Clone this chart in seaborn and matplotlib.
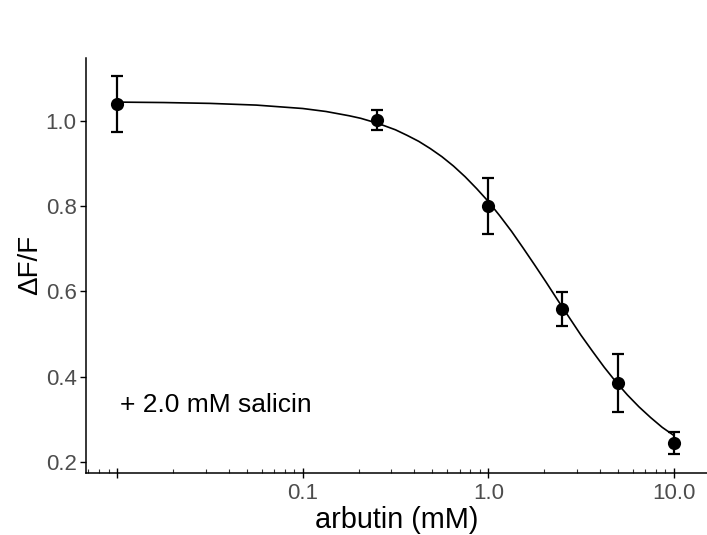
import numpy as np
import pandas as pd
import matplotlib
matplotlib.use("Agg")
import matplotlib.pyplot as plt
import matplotlib.ticker as mticker
import seaborn as sns

# measured points (mean +/- error)
conc = [0.01, 0.25, 1.0, 2.5, 5.0, 10.0]
resp = [1.040, 1.002, 0.800, 0.558, 0.385, 0.244]
err = [0.065, 0.023, 0.065, 0.040, 0.068, 0.026]

# fitted curve
fit_x = [0.01, 0.0178, 0.0316, 0.0562, 0.1, 0.1334, 0.1778, 0.2054, 0.2371,
         0.2738, 0.3162, 0.3652, 0.4217, 0.487, 0.5623, 0.6494, 0.7499, 0.866,
         1.0, 1.155, 1.334, 1.54, 1.778, 2.054, 2.371, 2.738, 3.162, 3.652,
         4.217, 4.87, 5.623, 6.494, 7.499, 8.66, 10.0]
fit_y = [1.044, 1.043, 1.041, 1.037, 1.029, 1.022, 1.012, 1.006, 0.998,
         0.989, 0.979, 0.966, 0.952, 0.935, 0.916, 0.894, 0.869, 0.841,
         0.811, 0.777, 0.741, 0.702, 0.662, 0.621, 0.579, 0.538, 0.497, 0.459,
         0.422, 0.388, 0.357, 0.329, 0.304, 0.281, 0.262]

x_ticks = [0.01, 0.1, 1.0, 10.0]
x_ticklabels = ["", "0.1", "1.0", "10.0"]
y_ticks = [0.2, 0.4, 0.6, 0.8, 1.0]

pts = pd.DataFrame({"conc": conc, "resp": resp, "err": err})
curve = pd.DataFrame({"x": fit_x, "y": fit_y})

sns.set_theme(style="ticks")
plt.rcParams["font.family"] = ["Liberation Sans", "DejaVu Sans"]

fig = plt.figure(figsize=(7.07, 5.35), dpi=100)
ax = fig.add_axes([0.121, 0.116, 0.879, 0.776])

sns.lineplot(data=curve, x="x", y="y", color="black", linewidth=1.2, ax=ax)
ax.errorbar(pts["conc"], pts["resp"], yerr=pts["err"], fmt="none",
            ecolor="black", elinewidth=1.6, capsize=4, capthick=1.6, zorder=3)
sns.scatterplot(data=pts, x="conc", y="resp", color="black", s=90,
                edgecolor="black", linewidth=0, zorder=4, ax=ax)

ax.set_xscale("log")
ax.set_xlim(0.00675, 15.1)
ax.set_ylim(0.174, 1.148)
ax.set_xticks(x_ticks)
ax.set_xticklabels(x_ticklabels)
ax.xaxis.set_minor_locator(mticker.LogLocator(base=10, subs=np.arange(2, 10)))
ax.xaxis.set_minor_formatter(mticker.NullFormatter())
ax.set_yticks(y_ticks)
ax.set_yticklabels([f"{v:.1f}" for v in y_ticks])

ax.tick_params(axis="x", which="major", direction="inout", length=7, width=1,
               color="black", labelsize=16, labelcolor="#4D4D4D", pad=4)
ax.tick_params(axis="x", which="minor", direction="in", length=3, width=0.8,
               color="#333333")
ax.tick_params(axis="y", which="major", direction="out", length=4, width=1,
               color="black", labelsize=16, labelcolor="#4D4D4D", pad=2.5)

for side in ["top", "right"]:
    ax.spines[side].set_visible(False)
for side in ["left", "bottom"]:
    ax.spines[side].set_color("black")
    ax.spines[side].set_linewidth(1.1)

ax.set_xlabel("arbutin (mM)", fontsize=20.8, color="black", labelpad=1)
ax.set_ylabel("\u0394F/F", fontsize=20, color="black", labelpad=2)

ax.text(0.0104, 0.333, "+ 2.0 mM salicin", fontsize=19, color="black",
        ha="left", va="center")

fig.savefig("out.png", dpi=100)
